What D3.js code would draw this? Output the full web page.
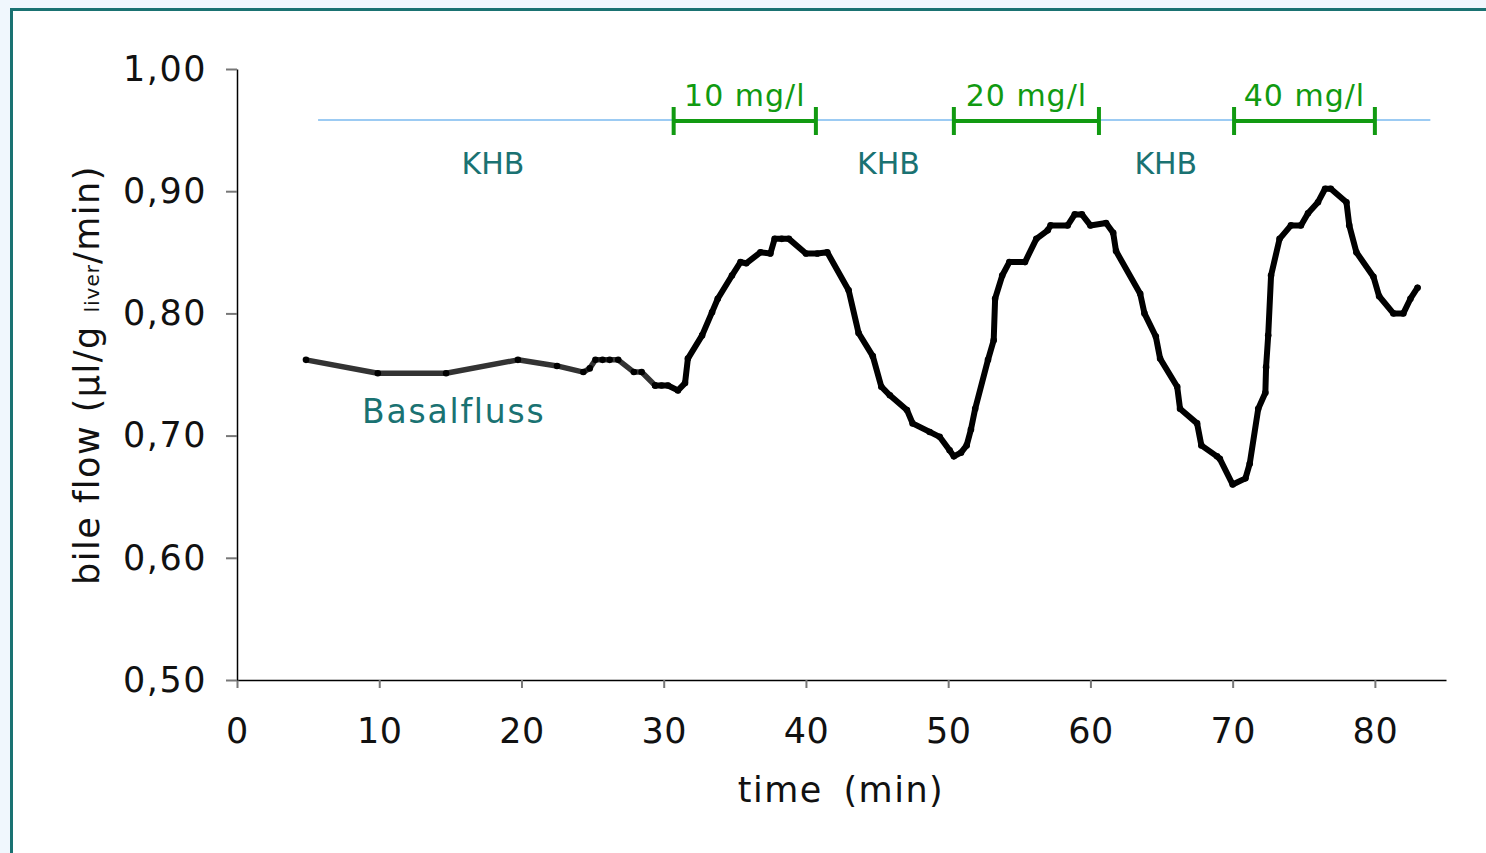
<!DOCTYPE html>
<html>
<head>
<meta charset="utf-8">
<script src="https://cdn.jsdelivr.net/npm/d3@7"></script>
<style>
  body { margin: 0; background: #f0f7fd; }
  svg { display: block; font-family: "DejaVu Sans", Verdana, sans-serif; }
</style>
</head>
<body>
<div id="chart"></div>
<script>
// basal period (gray line)
var basalTime = [4.85, 9.9, 14.7, 19.75, 22.5, 24.35, 24.8, 25.2, 25.7, 26.2, 26.8, 27.9, 28.45, 29.4];
var basalFlow = [0.762, 0.751, 0.751, 0.762, 0.757, 0.752, 0.755, 0.762, 0.762, 0.762, 0.762, 0.752, 0.752, 0.741];

// perfusion period (black line)
var perfTime = [29.4, 29.85, 30.3, 31.0, 31.5, 31.7, 32.7, 33.4, 33.8, 34.8, 35.4, 35.8, 36.8, 37.5, 37.8, 38.3, 38.8,
  40.0, 40.8, 41.5, 43.0, 43.7, 44.7, 45.3, 45.9, 47.1, 47.5, 48.7, 49.4, 50.1, 50.4, 50.9, 51.3, 51.6, 51.9,
  52.8, 53.2, 53.3, 53.8, 54.3, 55.4, 56.2, 57.0, 57.2, 58.4, 58.9, 59.4, 60.0, 61.1, 61.6, 61.8, 63.5, 63.8,
  64.6, 64.9, 66.1, 66.3, 67.5, 67.8, 68.9, 69.1, 70.0, 70.9, 71.2, 71.8, 72.3, 72.35, 72.5, 72.7, 73.3, 74.1,
  74.8, 75.3, 76.0, 76.5, 76.9, 78.0, 78.2, 78.7, 79.9, 80.3, 81.3, 82.0, 82.5, 83.0];
var perfFlow = [0.741, 0.741, 0.741, 0.737, 0.743, 0.763, 0.782, 0.801, 0.812, 0.831, 0.842, 0.841, 0.850, 0.849, 0.861, 0.861, 0.861,
  0.849, 0.849, 0.850, 0.819, 0.784, 0.765, 0.740, 0.733, 0.721, 0.710, 0.703, 0.699, 0.688, 0.683, 0.686, 0.692, 0.705, 0.722,
  0.762, 0.778, 0.812, 0.831, 0.842, 0.842, 0.861, 0.868, 0.872, 0.872, 0.881, 0.881, 0.872, 0.874, 0.866, 0.851, 0.816, 0.800,
  0.781, 0.763, 0.740, 0.722, 0.710, 0.692, 0.683, 0.681, 0.660, 0.665, 0.677, 0.722, 0.735, 0.756, 0.782, 0.831, 0.861, 0.872,
  0.872, 0.882, 0.891, 0.902, 0.902, 0.891, 0.872, 0.850, 0.830, 0.814, 0.800, 0.800, 0.812, 0.821];

var xTicks = [0, 10, 20, 30, 40, 50, 60, 70, 80];
var yTicks = [0.5, 0.6, 0.7, 0.8, 0.9, 1.0];
var yTickLabels = ["0,50", "0,60", "0,70", "0,80", "0,90", "1,00"];

// KHB baseline and dose bars
var perfusionSpan = [5.7, 83.9];
var doseLabels = ["10 mg/l", "20 mg/l", "40 mg/l"];
var doseStart = [30.7, 50.4, 70.1];
var doseEnd = [40.7, 60.6, 80.0];
var khbLabels = ["KHB", "KHB", "KHB"];
var khbTime = [18.0, 45.8, 65.3];

var W = 1486, H = 853;
var svg = d3.select("#chart").append("svg")
  .attr("width", W).attr("height", H);

// frame
svg.append("rect")
  .attr("x", 11.5).attr("y", 9.5)
  .attr("width", 1520).attr("height", 900)
  .attr("fill", "#fff")
  .attr("stroke", "#1a7272").attr("stroke-width", 3);

var x = d3.scaleLinear().domain([0, 85]).range([237, 1446]);
var y = d3.scaleLinear().domain([0.5, 1.0]).range([680, 69]);

// x axis
var gx = svg.append("g")
  .attr("transform", "translate(0," + y(0.5) + ")")
  .call(d3.axisBottom(x).tickValues(xTicks).tickSize(8).tickSizeOuter(0).tickPadding(30));
gx.select(".domain").attr("stroke", "#000").attr("stroke-width", 1.5);
gx.selectAll(".tick line").attr("stroke", "#777").attr("stroke-width", 2);
gx.selectAll(".tick text").attr("font-size", 35).attr("fill", "#111")
  .attr("font-family", "DejaVu Sans").style("letter-spacing", "0.5px");

// y axis
var gy = svg.append("g")
  .attr("transform", "translate(" + x(0) + ",0)")
  .call(d3.axisLeft(y).tickValues(yTicks).tickSize(11).tickSizeOuter(0).tickPadding(19)
    .tickFormat(function(d, i) { return yTickLabels[i]; }));
gy.select(".domain").attr("stroke", "#000").attr("stroke-width", 1.5);
gy.selectAll(".tick line").attr("stroke", "#777").attr("stroke-width", 2);
gy.selectAll(".tick text").attr("font-size", 35).attr("fill", "#111")
  .attr("font-family", "DejaVu Sans").style("letter-spacing", "1.5px");

// axis titles
svg.append("text")
  .attr("x", 841).attr("y", 802)
  .attr("text-anchor", "middle")
  .attr("font-size", 35).attr("fill", "#111")
  .style("letter-spacing", "1.5px").style("word-spacing", "8px")
  .text("time (min)");

var yt = svg.append("text")
  .attr("transform", "translate(99,375) rotate(-90)")
  .attr("text-anchor", "middle")
  .attr("font-size", 35).attr("fill", "#111")
  .style("letter-spacing", "1.5px");
yt.append("tspan").text("bile flow (\u00b5l/g ");
yt.append("tspan").attr("font-size", 20).style("letter-spacing", "1px").text("liver");
yt.append("tspan").text("/min)");

// KHB line
svg.append("line")
  .attr("x1", x(perfusionSpan[0])).attr("x2", x(perfusionSpan[1]))
  .attr("y1", 120).attr("y2", 120)
  .attr("stroke", "#9ccbf3").attr("stroke-width", 2);

// dose bars
var green = "#119a11";
doseLabels.forEach(function(lab, i) {
  var g = svg.append("g");
  g.append("line")
    .attr("x1", x(doseStart[i])).attr("x2", x(doseEnd[i]))
    .attr("y1", 121).attr("y2", 121)
    .attr("stroke", green).attr("stroke-width", 4);
  [doseStart[i], doseEnd[i]].forEach(function(t) {
    g.append("line")
      .attr("x1", x(t)).attr("x2", x(t))
      .attr("y1", 107).attr("y2", 135)
      .attr("stroke", green).attr("stroke-width", 4);
  });
  g.append("text")
    .attr("x", (x(doseStart[i]) + x(doseEnd[i])) / 2).attr("y", 106)
    .attr("text-anchor", "middle")
    .attr("font-size", 30).attr("fill", green)
    .style("letter-spacing", "1px")
    .text(lab);
});

// KHB labels
khbLabels.forEach(function(lab, i) {
  svg.append("text")
    .attr("x", x(khbTime[i])).attr("y", 174)
    .attr("text-anchor", "middle")
    .attr("font-size", 30).attr("fill", "#1a7272")
    .text(lab);
});

svg.append("text")
  .attr("x", 362).attr("y", 423)
  .attr("font-size", 33).attr("fill", "#1a7272")
  .style("letter-spacing", "1.8px")
  .text("Basalfluss");

// curves
var line = d3.line()
  .x(function(d) { return x(d[0]); })
  .y(function(d) { return y(d[1]); });

var basal = d3.zip(basalTime, basalFlow);
var perf = d3.zip(perfTime, perfFlow);

svg.append("path")
  .attr("d", line(basal))
  .attr("fill", "none").attr("stroke", "#333")
  .attr("stroke-width", 5.5).attr("stroke-linejoin", "round");

svg.append("path")
  .attr("d", line(perf))
  .attr("fill", "none").attr("stroke", "#000")
  .attr("stroke-width", 6).attr("stroke-linejoin", "round").attr("stroke-linecap", "round");

svg.selectAll(".dot")
  .data(basal.concat(perf))
  .enter().append("circle")
  .attr("class", "dot")
  .attr("cx", function(d) { return x(d[0]); })
  .attr("cy", function(d) { return y(d[1]); })
  .attr("r", 3.3)
  .attr("fill", "#000");
</script>
</body>
</html>
